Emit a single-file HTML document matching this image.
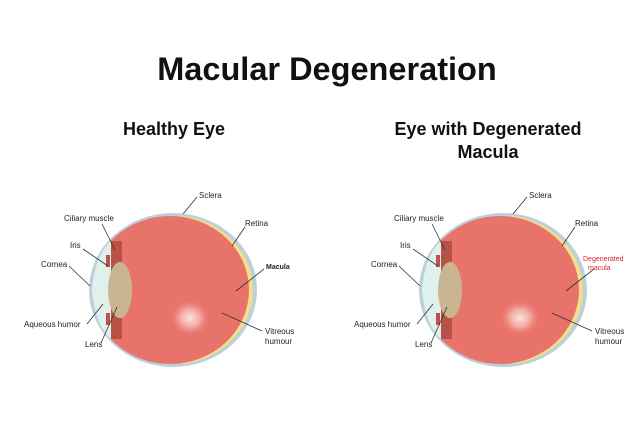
<!DOCTYPE html>
<html><head><style>
html,body{margin:0;padding:0;background:#fff;}
svg{display:block;font-family:"Liberation Sans",sans-serif;}
</style></head><body>
<svg width="639" height="425" viewBox="0 0 639 425" xmlns="http://www.w3.org/2000/svg">
<defs>
<radialGradient id="glow" cx="0.5" cy="0.5" r="0.5">
<stop offset="0" stop-color="#fbe3e0"/><stop offset="0.5" stop-color="#f3a9a2"/><stop offset="1" stop-color="#ec7a72" stop-opacity="0"/>
</radialGradient>
<clipPath id="cl"><rect x="111" y="200" width="160" height="180"/></clipPath>
<clipPath id="cy"><rect x="183" y="200" width="100" height="180"/></clipPath>
<g id="eye">
<ellipse cx="173" cy="290" rx="84" ry="77" fill="#bcd0da"/>
<ellipse cx="171" cy="290" rx="82" ry="75" fill="#f5dd8a" clip-path="url(#cy)"/>
<ellipse cx="170" cy="290" rx="79" ry="74" fill="#e8736b" clip-path="url(#cl)"/>
<rect x="111" y="241" width="11" height="98" fill="#b85248"/>
<path d="M92 290 Q95 255 111 241 L111 339 Q95 325 92 290Z" fill="#dff1ea"/>
<ellipse cx="120" cy="290" rx="12" ry="28" fill="#c9b592"/>
<rect x="106" y="255" width="4" height="12" fill="#c05050"/>
<rect x="106" y="313" width="4" height="12" fill="#c05050"/>
<ellipse cx="190" cy="318" rx="20" ry="18" fill="url(#glow)"/>
<g stroke="#333" stroke-width="0.8" fill="none">
<line x1="102" y1="224" x2="115" y2="250"/>
<line x1="83" y1="249" x2="108" y2="266"/>
<line x1="69" y1="266" x2="90" y2="286"/>
<line x1="87" y1="324" x2="103" y2="304"/>
<line x1="101" y1="343" x2="117" y2="307"/>
<line x1="197" y1="197" x2="183" y2="214"/>
<line x1="245" y1="227" x2="232" y2="246"/>
<line x1="264" y1="269" x2="236" y2="291"/>
<line x1="262" y1="331" x2="222" y2="313"/>
</g>
<g font-size="8" fill="#222">
<text x="64" y="221">Ciliary muscle</text>
<text x="70" y="248">Iris</text>
<text x="41" y="267">Cornea</text>
<text x="24" y="327">Aqueous humor</text>
<text x="85" y="347">Lens</text>
<text x="199" y="198">Sclera</text>
<text x="245" y="226">Retina</text>
<text x="265" y="334">Vitreous</text>
<text x="265" y="344">humour</text>
</g>
</g>
</defs>
<text x="327" y="80" text-anchor="middle" font-size="32.5" font-weight="bold" fill="#111">Macular Degeneration</text>
<text x="174" y="135" text-anchor="middle" font-size="18" font-weight="bold" fill="#111">Healthy Eye</text>
<text x="488" y="135" text-anchor="middle" font-size="18" font-weight="bold" fill="#111">Eye with Degenerated</text>
<text x="488" y="158" text-anchor="middle" font-size="18" font-weight="bold" fill="#111">Macula</text>
<use href="#eye"/>
<text x="266" y="269" font-size="7" font-weight="bold" fill="#222">Macula</text>
<use href="#eye" transform="translate(330,0)"/>
<text x="583" y="261" font-size="7" fill="#d22">Degenerated</text>
<text x="588" y="270" font-size="7" fill="#d22">macula</text>
</svg>
</body></html>
